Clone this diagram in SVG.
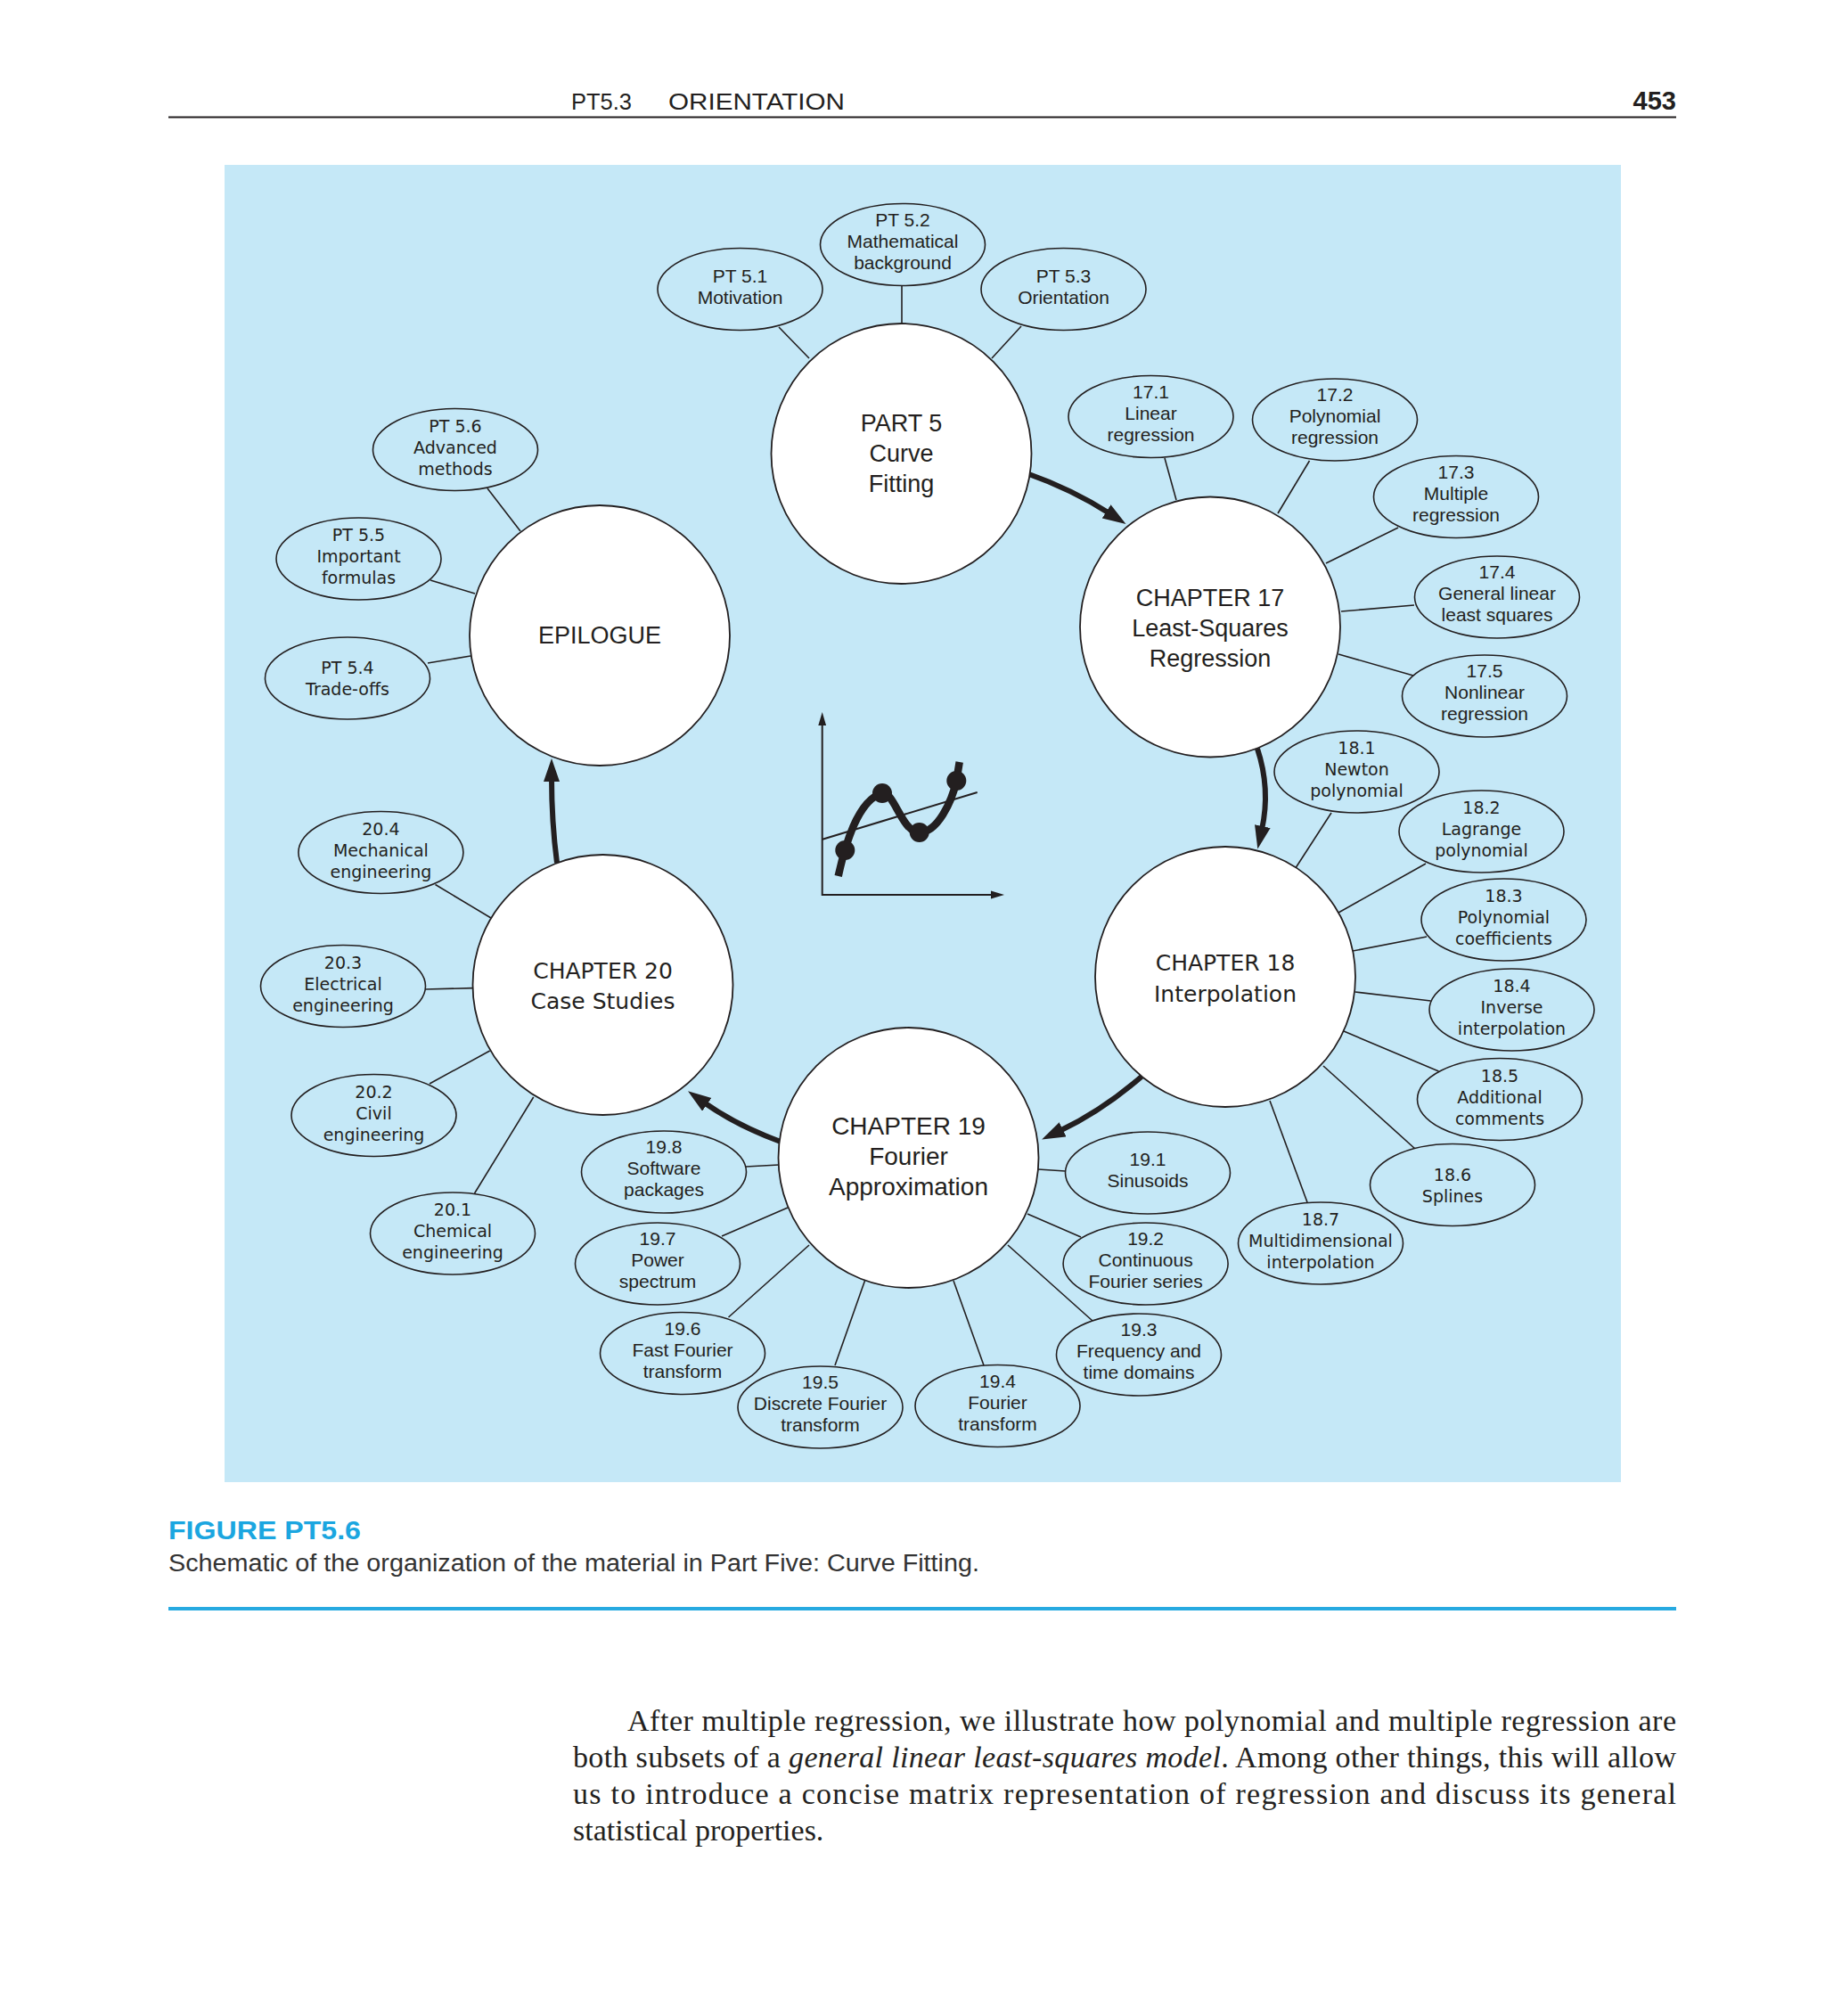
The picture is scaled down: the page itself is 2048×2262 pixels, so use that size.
<svg xmlns="http://www.w3.org/2000/svg" width="2048" height="2262" viewBox="0 0 2048 2262">
<style>
.bg{fill:#c5e8f7}
.main{fill:#ffffff;stroke:#231f20;stroke-width:1.8}
.sub{fill:#c5e8f7;stroke:#231f20;stroke-width:1.6}
.conn{stroke:#231f20;stroke-width:1.6;fill:none}
.flow{stroke:#231f20;stroke-width:6;fill:none;marker-end:url(#ah)}
text{fill:#231f20}
.tc{font-family:"Liberation Sans",Arial,sans-serif;font-size:21px;text-anchor:middle}
.tw{font-family:"DejaVu Sans",Verdana,sans-serif;font-size:19px;text-anchor:middle}
.hc{font-family:"Liberation Sans",Arial,sans-serif;font-size:27px;text-anchor:middle}
.hw{font-family:"DejaVu Sans",Verdana,sans-serif;font-size:25px;text-anchor:middle}
.body{font-family:"Liberation Serif","Times New Roman",serif;font-size:34px}
</style>
<defs>
<marker id="ah" markerUnits="userSpaceOnUse" markerWidth="28" markerHeight="20" refX="4" refY="9" orient="auto" viewBox="0 0 28 20">
<path d="M0,0 L26,9 L0,18 z" fill="#231f20"/>
</marker>
</defs>

<rect width="2048" height="2262" fill="#ffffff"/>

<!-- page header -->
<g id="header">
<text x="641" y="123" font-family="Liberation Sans, Arial, sans-serif" font-size="26" textLength="68" lengthAdjust="spacingAndGlyphs">PT5.3</text>
<text x="750" y="123" font-family="Liberation Sans, Arial, sans-serif" font-size="26" textLength="198" lengthAdjust="spacingAndGlyphs">ORIENTATION</text>
<text x="1881" y="123" font-family="Liberation Sans, Arial, sans-serif" font-size="29" font-weight="bold" text-anchor="end">453</text>
<line x1="189" y1="131.5" x2="1881" y2="131.5" stroke="#231f20" stroke-width="2"/>
</g>

<rect class="bg" x="252" y="185" width="1567" height="1478"/>

<!-- connectors -->
<g id="connectors">
<line class="conn" x1="874" y1="367" x2="908" y2="402"/>
<line class="conn" x1="1012" y1="321" x2="1012" y2="363"/>
<line class="conn" x1="1146" y1="366" x2="1113" y2="402"/>
<line class="conn" x1="1307" y1="514" x2="1320" y2="561"/>
<line class="conn" x1="1469.5" y1="517" x2="1434" y2="576"/>
<line class="conn" x1="1569" y1="592" x2="1488" y2="632"/>
<line class="conn" x1="1587" y1="679" x2="1505" y2="686"/>
<line class="conn" x1="1586" y1="758" x2="1502" y2="734"/>
<line class="conn" x1="1494" y1="912" x2="1454.5" y2="973"/>
<line class="conn" x1="1600" y1="969" x2="1502" y2="1024"/>
<line class="conn" x1="1601" y1="1051" x2="1518" y2="1067"/>
<line class="conn" x1="1605.6" y1="1123" x2="1520.7" y2="1113"/>
<line class="conn" x1="1614.5" y1="1202" x2="1508" y2="1157"/>
<line class="conn" x1="1588" y1="1289" x2="1485" y2="1196"/>
<line class="conn" x1="1467" y1="1349" x2="1425" y2="1235"/>
<line class="conn" x1="1195.5" y1="1314" x2="1165" y2="1312"/>
<line class="conn" x1="1213" y1="1388" x2="1153" y2="1362"/>
<line class="conn" x1="1226" y1="1482" x2="1131" y2="1397"/>
<line class="conn" x1="1104" y1="1532" x2="1070" y2="1437"/>
<line class="conn" x1="937" y1="1532" x2="970.5" y2="1437"/>
<line class="conn" x1="817.5" y1="1478" x2="908" y2="1397"/>
<line class="conn" x1="810" y1="1387" x2="884" y2="1355"/>
<line class="conn" x1="837" y1="1309" x2="874" y2="1307"/>
<line class="conn" x1="532.5" y1="1339" x2="598.7" y2="1231"/>
<line class="conn" x1="482" y1="1216" x2="549.7" y2="1179"/>
<line class="conn" x1="477" y1="1110" x2="530.6" y2="1108.6"/>
<line class="conn" x1="488.5" y1="992.5" x2="551" y2="1030"/>
<line class="conn" x1="480" y1="744" x2="528" y2="736"/>
<line class="conn" x1="483" y1="651" x2="533" y2="666"/>
<line class="conn" x1="547" y1="548" x2="584" y2="596"/>
<path class="flow" d="M1152,531 Q1203,549 1245,576"/>
<path class="flow" d="M1411,840 Q1426,885 1416,931"/>
<path class="flow" d="M1281,1208 Q1237,1246 1189,1269"/>
<path class="flow" d="M876,1281 Q827,1263 790,1237"/>
<path class="flow" d="M625,968 Q619,922 619,873"/>
</g>

<!-- main nodes -->
<g id="part5">
<circle class="main" cx="1011.5" cy="509" r="146"/>
<text class="hc"><tspan x="1011.5" y="484">PART 5</tspan><tspan x="1011.5" y="518">Curve</tspan><tspan x="1011.5" y="552">Fitting</tspan></text>
</g>
<g id="ch17">
<circle class="main" cx="1358" cy="703.5" r="146"/>
<text class="hc"><tspan x="1358" y="679.5">CHAPTER 17</tspan><tspan x="1358" y="713.5">Least-Squares</tspan><tspan x="1358" y="747.5">Regression</tspan></text>
</g>
<g id="ch18">
<circle class="main" cx="1375" cy="1096" r="146"/>
<text class="hw"><tspan x="1375" y="1089">CHAPTER 18</tspan><tspan x="1375" y="1124">Interpolation</tspan></text>
</g>
<g id="ch19">
<circle class="main" cx="1019.5" cy="1299" r="146"/>
<text class="hc" style="font-size:28px"><tspan x="1019.5" y="1273">CHAPTER 19</tspan><tspan x="1019.5" y="1307">Fourier</tspan><tspan x="1019.5" y="1341">Approximation</tspan></text>
</g>
<g id="ch20">
<circle class="main" cx="676.5" cy="1105" r="146"/>
<text class="hw"><tspan x="676.5" y="1098">CHAPTER 20</tspan><tspan x="676.5" y="1132">Case Studies</tspan></text>
</g>
<g id="epilogue">
<circle class="main" cx="673" cy="713" r="146"/>
<text class="hc" x="673" y="722">EPILOGUE</text>
</g>

<!-- sub nodes -->
<g id="pt51"><ellipse class="sub" cx="830.5" cy="324.5" rx="92.5" ry="46"/><text class="tc"><tspan x="830.5" y="316.5">PT 5.1</tspan><tspan x="830.5" y="340.5">Motivation</tspan></text></g>
<g id="pt52"><ellipse class="sub" cx="1013" cy="274.5" rx="92.5" ry="46"/><text class="tc"><tspan x="1013" y="253.5">PT 5.2</tspan><tspan x="1013" y="277.5">Mathematical</tspan><tspan x="1013" y="301.5">background</tspan></text></g>
<g id="pt53"><ellipse class="sub" cx="1193.5" cy="324.5" rx="92.5" ry="46"/><text class="tc"><tspan x="1193.5" y="316.5">PT 5.3</tspan><tspan x="1193.5" y="340.5">Orientation</tspan></text></g>

<g id="s17-1"><ellipse class="sub" cx="1291.5" cy="467.5" rx="92.5" ry="46"/><text class="tc"><tspan x="1291.5" y="446.5">17.1</tspan><tspan x="1291.5" y="470.5">Linear</tspan><tspan x="1291.5" y="494.5">regression</tspan></text></g>
<g id="s17-2"><ellipse class="sub" cx="1498" cy="471" rx="92.5" ry="46"/><text class="tc"><tspan x="1498" y="450">17.2</tspan><tspan x="1498" y="474">Polynomial</tspan><tspan x="1498" y="498">regression</tspan></text></g>
<g id="s17-3"><ellipse class="sub" cx="1634" cy="557.5" rx="92.5" ry="46"/><text class="tc"><tspan x="1634" y="536.5">17.3</tspan><tspan x="1634" y="560.5">Multiple</tspan><tspan x="1634" y="584.5">regression</tspan></text></g>
<g id="s17-4"><ellipse class="sub" cx="1680" cy="670" rx="92.5" ry="46"/><text class="tc"><tspan x="1680" y="649">17.4</tspan><tspan x="1680" y="673">General linear</tspan><tspan x="1680" y="697">least squares</tspan></text></g>
<g id="s17-5"><ellipse class="sub" cx="1666" cy="781" rx="92.5" ry="46"/><text class="tc"><tspan x="1666" y="760">17.5</tspan><tspan x="1666" y="784">Nonlinear</tspan><tspan x="1666" y="808">regression</tspan></text></g>

<g id="s18-1"><ellipse class="sub" cx="1522.5" cy="866" rx="92.5" ry="46"/><text class="tw"><tspan x="1522.5" y="846">18.1</tspan><tspan x="1522.5" y="870">Newton</tspan><tspan x="1522.5" y="894">polynomial</tspan></text></g>
<g id="s18-2"><ellipse class="sub" cx="1662.5" cy="933" rx="92.5" ry="46"/><text class="tw"><tspan x="1662.5" y="913">18.2</tspan><tspan x="1662.5" y="937">Lagrange</tspan><tspan x="1662.5" y="961">polynomial</tspan></text></g>
<g id="s18-3"><ellipse class="sub" cx="1687.5" cy="1032" rx="92.5" ry="46"/><text class="tw"><tspan x="1687.5" y="1012">18.3</tspan><tspan x="1687.5" y="1036">Polynomial</tspan><tspan x="1687.5" y="1060">coefficients</tspan></text></g>
<g id="s18-4"><ellipse class="sub" cx="1696.5" cy="1133" rx="92.5" ry="46"/><text class="tw"><tspan x="1696.5" y="1113">18.4</tspan><tspan x="1696.5" y="1137">Inverse</tspan><tspan x="1696.5" y="1161">interpolation</tspan></text></g>
<g id="s18-5"><ellipse class="sub" cx="1683" cy="1233.5" rx="92.5" ry="46"/><text class="tw"><tspan x="1683" y="1213.5">18.5</tspan><tspan x="1683" y="1237.5">Additional</tspan><tspan x="1683" y="1261.5">comments</tspan></text></g>
<g id="s18-6"><ellipse class="sub" cx="1630" cy="1329.5" rx="92.5" ry="46"/><text class="tw"><tspan x="1630" y="1324.5">18.6</tspan><tspan x="1630" y="1348.5">Splines</tspan></text></g>
<g id="s18-7"><ellipse class="sub" cx="1482" cy="1395" rx="92.5" ry="46"/><text class="tw"><tspan x="1482" y="1375">18.7</tspan><tspan x="1482" y="1399">Multidimensional</tspan><tspan x="1482" y="1423">interpolation</tspan></text></g>

<g id="s19-1"><ellipse class="sub" cx="1288" cy="1316" rx="92.5" ry="46"/><text class="tc"><tspan x="1288" y="1308">19.1</tspan><tspan x="1288" y="1332">Sinusoids</tspan></text></g>
<g id="s19-2"><ellipse class="sub" cx="1285.6" cy="1418" rx="92.5" ry="46"/><text class="tc"><tspan x="1285.6" y="1397">19.2</tspan><tspan x="1285.6" y="1421">Continuous</tspan><tspan x="1285.6" y="1445">Fourier series</tspan></text></g>
<g id="s19-3"><ellipse class="sub" cx="1278" cy="1520" rx="92.5" ry="46"/><text class="tc"><tspan x="1278" y="1499">19.3</tspan><tspan x="1278" y="1523">Frequency and</tspan><tspan x="1278" y="1547">time domains</tspan></text></g>
<g id="s19-4"><ellipse class="sub" cx="1119.5" cy="1577.5" rx="92.5" ry="46"/><text class="tc"><tspan x="1119.5" y="1556.5">19.4</tspan><tspan x="1119.5" y="1580.5">Fourier</tspan><tspan x="1119.5" y="1604.5">transform</tspan></text></g>
<g id="s19-5"><ellipse class="sub" cx="920.5" cy="1579" rx="92.5" ry="46"/><text class="tc"><tspan x="920.5" y="1558">19.5</tspan><tspan x="920.5" y="1582">Discrete Fourier</tspan><tspan x="920.5" y="1606">transform</tspan></text></g>
<g id="s19-6"><ellipse class="sub" cx="766" cy="1518.5" rx="92.5" ry="46"/><text class="tc"><tspan x="766" y="1497.5">19.6</tspan><tspan x="766" y="1521.5">Fast Fourier</tspan><tspan x="766" y="1545.5">transform</tspan></text></g>
<g id="s19-7"><ellipse class="sub" cx="738" cy="1418" rx="92.5" ry="46"/><text class="tc"><tspan x="738" y="1397">19.7</tspan><tspan x="738" y="1421">Power</tspan><tspan x="738" y="1445">spectrum</tspan></text></g>
<g id="s19-8"><ellipse class="sub" cx="745" cy="1315" rx="92.5" ry="46"/><text class="tc"><tspan x="745" y="1294">19.8</tspan><tspan x="745" y="1318">Software</tspan><tspan x="745" y="1342">packages</tspan></text></g>

<g id="s20-1"><ellipse class="sub" cx="508" cy="1384" rx="92.5" ry="46"/><text class="tw"><tspan x="508" y="1364">20.1</tspan><tspan x="508" y="1388">Chemical</tspan><tspan x="508" y="1412">engineering</tspan></text></g>
<g id="s20-2"><ellipse class="sub" cx="419.5" cy="1251.5" rx="92.5" ry="46"/><text class="tw"><tspan x="419.5" y="1231.5">20.2</tspan><tspan x="419.5" y="1255.5">Civil</tspan><tspan x="419.5" y="1279.5">engineering</tspan></text></g>
<g id="s20-3"><ellipse class="sub" cx="385" cy="1106.5" rx="92.5" ry="46"/><text class="tw"><tspan x="385" y="1086.5">20.3</tspan><tspan x="385" y="1110.5">Electrical</tspan><tspan x="385" y="1134.5">engineering</tspan></text></g>
<g id="s20-4"><ellipse class="sub" cx="427.4" cy="956.5" rx="92.5" ry="46"/><text class="tw"><tspan x="427.4" y="936.5">20.4</tspan><tspan x="427.4" y="960.5">Mechanical</tspan><tspan x="427.4" y="984.5">engineering</tspan></text></g>

<g id="pt54"><ellipse class="sub" cx="390" cy="761" rx="92.5" ry="46"/><text class="tw"><tspan x="390" y="756">PT 5.4</tspan><tspan x="390" y="780">Trade-offs</tspan></text></g>
<g id="pt55"><ellipse class="sub" cx="402.5" cy="627" rx="92.5" ry="46"/><text class="tw"><tspan x="402.5" y="607">PT 5.5</tspan><tspan x="402.5" y="631">Important</tspan><tspan x="402.5" y="655">formulas</tspan></text></g>
<g id="pt56"><ellipse class="sub" cx="511" cy="504.5" rx="92.5" ry="46"/><text class="tw"><tspan x="511" y="484.5">PT 5.6</tspan><tspan x="511" y="508.5">Advanced</tspan><tspan x="511" y="532.5">methods</tspan></text></g>

<!-- central chart -->
<g id="chart">
<polyline points="922.7,812 922.7,1004 1113,1004" fill="none" stroke="#231f20" stroke-width="2"/>
<polygon points="922.7,799 918.3,814 927.1,814" fill="#231f20"/>
<polygon points="1127,1004 1112,999.6 1112,1008.4" fill="#231f20"/>
<line x1="923" y1="941.7" x2="1096.7" y2="889" stroke="#231f20" stroke-width="2"/>
<path d="M940.7,983 C948,950 962,898 990,890 C1003,887 1012,934 1031.7,934 C1052,934 1068,900 1073.3,876 L1076.7,855" fill="none" stroke="#231f20" stroke-width="8.5"/>
<circle cx="948.3" cy="954" r="11" fill="#231f20"/>
<circle cx="990" cy="890" r="11" fill="#231f20"/>
<circle cx="1031.7" cy="934" r="11" fill="#231f20"/>
<circle cx="1073.3" cy="876" r="11" fill="#231f20"/>
</g>

<!-- caption -->
<g id="caption">
<text x="189" y="1727" font-family="Liberation Sans, Arial, sans-serif" font-size="30" font-weight="bold" style="fill:#1ba6e0" textLength="216" lengthAdjust="spacingAndGlyphs">FIGURE PT5.6</text>
<text x="189" y="1763" font-family="Liberation Sans, Arial, sans-serif" font-size="27" textLength="910" lengthAdjust="spacingAndGlyphs" style="fill:#333333">Schematic of the organization of the material in Part Five: Curve Fitting.</text>
<line x1="189" y1="1805" x2="1881" y2="1805" stroke="#27aae1" stroke-width="4"/>
</g>

<!-- body text -->
<g id="bodytext">
<text class="body" x="704" y="1942" textLength="1177" lengthAdjust="spacing">After multiple regression, we illustrate how polynomial and multiple regression are</text>
<text class="body" x="643" y="1983" textLength="1238" lengthAdjust="spacing">both subsets of a <tspan font-style="italic">general linear least-squares model</tspan>. Among other things, this will allow</text>
<text class="body" x="643" y="2024" textLength="1238" lengthAdjust="spacing">us to introduce a concise matrix representation of regression and discuss its general</text>
<text class="body" x="643" y="2065">statistical properties.</text>
</g>
</svg>
